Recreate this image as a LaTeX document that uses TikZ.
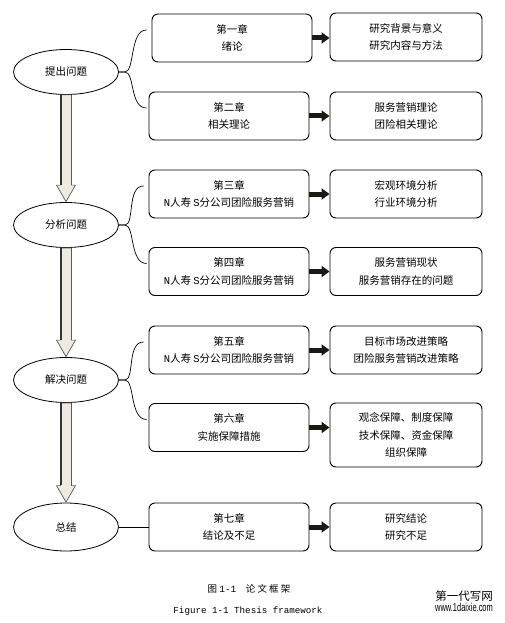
\documentclass[tikz,border=0pt]{standalone}
\usepackage{fontspec}
\setmainfont{Liberation Serif}
\newfontfamily\cjk{Noto Sans CJK SC}
\newfontfamily\monof{Liberation Mono}
\newfontfamily\wmf{Liberation Sans}
\usetikzlibrary{shapes.geometric,arrows.meta,calc}
\definecolor{hollowfill}{HTML}{EDEAE0}
\definecolor{arrowdark}{HTML}{1A1A12}
\tikzset{
  phase/.style={ellipse, draw, line width=0.8pt, minimum width=105pt, minimum height=45pt, inner sep=0pt,
    font=\cjk\fontsize{10.5}{17.5}\selectfont},
  chapbox/.style={rectangle, draw, line width=0.9pt, rounded corners=6pt, minimum width=160pt, minimum height=48pt,
    align=center, inner sep=0pt, font=\cjk\fontsize{10.5}{17.5}\selectfont},
  contbox/.style={chapbox, minimum width=152pt},
  brace/.style={line width=0.7pt},
  smallarrow/.style={line width=5pt, draw=arrowdark, -{Triangle[length=8pt,width=11pt]}},
  hollow/.style={fill=hollowfill, draw=black!65, line width=0.7pt},
  hollowedge/.style={draw=black!80, line width=1.8pt},
}
\begin{document}
\begin{tikzpicture}[x=1pt,y=-1pt]
\useasboundingbox (0,0) rectangle (505,623);
\fill[white] (0,0) rectangle (505,623);

% phases
\node[phase] (e1) at (66,72) {提出问题};
\node[phase] (e2) at (66,225) {分析问题};
\node[phase] (e3) at (66,380) {解决问题};
\node[phase, minimum height=48pt] (e4) at (66,527) {总结};

% chapter boxes
\node[chapbox] (b1) at (232,38) {第一章\\绪论};
\node[chapbox] (b2) at (229,116) {第二章\\相关理论};
\node[chapbox] (b3) at (229,194) {第三章\\{\monof N}人寿 {\monof S}分公司团险服务营销};
\node[chapbox] (b4) at (229,271.5) {第四章\\{\monof N}人寿 {\monof S}分公司团险服务营销};
\node[chapbox] (b5) at (229,350) {第五章\\{\monof N}人寿 {\monof S}分公司团险服务营销};
\node[chapbox] (b6) at (229,427.5) {第六章\\实施保障措施};
\node[chapbox] (b7) at (229,527) {第七章\\结论及不足};

% content boxes
\node[contbox] (r1) at (406,37) {研究背景与意义\\研究内容与方法};
\node[contbox] (r2) at (406,116) {服务营销理论\\团险相关理论};
\node[contbox] (r3) at (406,194) {宏观环境分析\\行业环境分析};
\node[contbox] (r4) at (406,271.5) {服务营销现状\\服务营销存在的问题};
\node[contbox] (r5) at (406,350) {目标市场改进策略\\团险服务营销改进策略};
\node[contbox, minimum height=64pt] (r6) at (406,435) {观念保障、制度保障\\技术保障、资金保障\\组织保障};
\node[contbox] (r7) at (406,527) {研究结论\\研究不足};

% small arrows
\foreach \i in {1,...,7}{
  \draw[smallarrow] (b\i.east) -- (b\i.east -| r\i.west);
}

% braces
\foreach \e/\u/\d in {e1/b1/b2, e2/b3/b4, e3/b5/b6}{
  \draw[brace] (\e.east) -- ++(6,0) .. controls +(10,0) and +(-17,0) .. ($(\u.west |- \u.center)+(-5,-8)$);
  \draw[brace] (\e.east) -- ++(6,0) .. controls +(10,0) and +(-17,0) .. ($(\d.west |- \d.center)+(-2,-8)$);
}
\draw[brace] (e4.east) -- (b7.west);

% hollow arrows
\foreach \a/\b in {e1/e2, e2/e3, e3/e4}{
  \path let \p1=(\a.south), \p2=(\b.north) in
    [hollow] (\x1-5.5pt,\y1) -- (\x1-5.5pt,\y2+17pt) -- (\x1-9.5pt,\y2+17pt) -- (\x1,\y2+0.5pt)
    -- (\x1+9.5pt,\y2+17pt) -- (\x1+5.5pt,\y2+17pt) -- (\x1+5.5pt,\y1) -- cycle;
  \path let \p1=(\a.south), \p2=(\b.north) in
    [hollowedge] (\x1-4.8pt,\y1) -- (\x1-4.8pt,\y2+17.5pt);
}

% captions
\node[font=\cjk\fontsize{9.5}{11}\selectfont] (cap1) at (249,589) {图 {\monof 1-1}\quad 论 文 框 架};
\node[font=\monof\fontsize{9.2}{11}\selectfont] (cap2) at (248,611) {Figure 1-1 Thesis framework};

% watermark
\node[font=\cjk\fontsize{11.5}{12}\selectfont, inner sep=0pt] (wm1) at (464,596) {第一代写网};
\node[font=\wmf\fontsize{11.5}{12}\selectfont, inner sep=0pt, xscale=0.65, transform shape] (wm2) at (464,607.5) {www.1daixie.com};
\end{tikzpicture}
\end{document}
